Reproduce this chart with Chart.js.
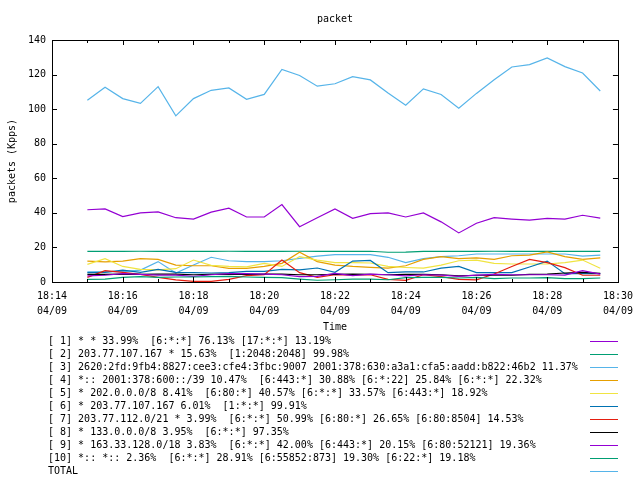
<!DOCTYPE html>
<html>
<head>
<meta charset="utf-8">
<script src="https://cdn.jsdelivr.net/npm/chart.js@4.4.1/dist/chart.umd.min.js"></script>
<style>
html,body{margin:0;padding:0;background:#fff;}
canvas{display:block;}
</style>
</head>
<body>
<canvas id="chart" width="640" height="480"></canvas>
<script>

/* ================= DATA ================= */

let times = ["18:15:00","18:15:30","18:16:00","18:16:30","18:17:00","18:17:30","18:18:00","18:18:30","18:19:00","18:19:30",
"18:20:00","18:20:30","18:21:00","18:21:30","18:22:00","18:22:30","18:23:00","18:23:30","18:24:00","18:24:30",
"18:25:00","18:25:30","18:26:00","18:26:30","18:27:00","18:27:30","18:28:00","18:28:30","18:29:00","18:29:30"];

let dateLabel = "04/09";

let labels = [
"[ 1] * * 33.99%  [6:*:*] 76.13% [17:*:*] 13.19%",
"[ 2] 203.77.107.167 * 15.63%  [1:2048:2048] 99.98%",
"[ 3] 2620:2fd:9fb4:8827:cee3:cfe4:3fbc:9007 2001:378:630:a3a1:cfa5:aadd:b822:46b2 11.37%",
"[ 4] *:: 2001:378:600::/39 10.47%  [6:443:*] 30.88% [6:*:22] 25.84% [6:*:*] 22.32%",
"[ 5] * 202.0.0.0/8 8.41%  [6:80:*] 40.57% [6:*:*] 33.57% [6:443:*] 18.92%",
"[ 6] * 203.77.107.167 6.01%  [1:*:*] 99.91%",
"[ 7] 203.77.112.0/21 * 3.99%  [6:*:*] 50.99% [6:80:*] 26.65% [6:80:8504] 14.53%",
"[ 8] * 133.0.0.0/8 3.95%  [6:*:*] 97.35%",
"[ 9] * 163.33.128.0/18 3.83%  [6:*:*] 42.00% [6:443:*] 20.15% [6:80:52121] 19.36%",
"[10] *:: *:: 2.36%  [6:*:*] 28.91% [6:55852:873] 19.30% [6:22:*] 19.18%",
"TOTAL"
];

let colors = ["#9400d3","#009e73","#56b4e9","#e69f00","#f0e442","#0072b2","#e51e10","#000000","#9400d3","#009e73","#56b4e9"];

let s1 = [41.8,42.3,37.8,40.0,40.6,37.2,36.4,40.4,42.7,37.6,37.6,44.8,32.0,37.2,42.3,36.8,39.6,40.0,37.6,40.0,34.8,28.4,34.0,37.2,36.4,35.8,36.8,36.4,38.6,37.0];
let s2 = [17.7,17.7,17.7,17.8,17.7,17.7,17.7,17.7,17.8,17.7,17.7,17.7,17.8,17.7,17.7,17.7,17.8,17.2,17.3,17.7,17.7,17.7,17.7,17.8,17.7,17.7,17.7,17.7,17.7,17.7];
let s3 = [5.8,6.0,6.0,6.9,11.8,5.2,9.8,14.3,12.3,11.8,11.8,12.3,13.7,15.0,15.8,15.8,15.8,14.3,11.2,13.5,14.7,15.2,16.2,16.2,16.2,16.2,16.2,16.2,15.0,15.6];
let s4 = [12.1,11.6,12.1,13.5,13.1,9.8,9.4,9.4,7.9,7.9,9.0,10.8,17.2,11.8,9.8,9.0,8.5,8.0,9.4,13.1,14.7,13.5,13.9,13.1,15.2,15.6,17.4,14.7,13.1,13.9];
let s5 = [10.2,13.5,9.0,7.3,7.0,7.7,12.7,9.6,9.0,8.7,10.8,9.0,14.7,12.7,11.2,11.2,11.0,9.0,8.4,8.0,9.8,12.3,12.7,10.8,10.4,10.4,10.4,11.2,12.7,8.0];
let s6 = [5.4,5.6,6.9,5.6,7.3,5.6,5.4,5.2,5.4,6.2,6.2,7.3,7.0,8.1,5.6,12.1,12.5,5.4,5.8,5.8,8.0,9.0,5.4,5.4,5.4,8.7,12.1,4.8,4.8,4.8];
let s7 = [2.7,6.6,5.6,4.4,2.7,1.2,0.4,0.4,1.5,3.7,4.2,12.7,5.4,2.7,4.2,3.9,4.2,1.5,1.0,4.2,3.1,1.5,1.2,4.6,9.0,13.1,11.2,8.3,3.9,3.9];
let s8 = [4.4,4.4,4.6,4.4,4.6,4.6,4.2,4.4,4.6,4.4,4.6,4.6,4.2,4.2,4.4,4.6,4.4,4.2,4.4,4.4,4.2,3.5,3.9,3.9,3.9,4.4,4.6,5.2,5.6,5.0];
let s9 = [3.5,3.9,4.8,4.4,4.0,4.0,3.3,4.2,4.8,4.8,4.6,4.2,3.1,3.3,5.0,3.7,4.6,4.2,3.5,4.2,4.0,3.3,4.0,4.4,4.2,4.2,4.2,4.0,6.6,4.6];
let s10 = [1.5,1.7,2.7,3.1,2.7,2.9,2.9,3.1,3.3,2.9,2.7,2.5,1.7,1.0,1.3,1.7,1.7,1.3,2.5,2.7,2.7,2.3,2.7,1.9,2.3,2.3,2.5,1.9,1.9,2.3];
let total = [105.1,112.7,106.1,103.3,113.0,96.1,106.1,110.9,112.3,105.7,108.5,123.0,119.5,113.3,114.7,118.8,116.9,109.4,102.3,111.7,108.5,100.5,109.1,117.0,124.4,125.8,129.6,124.6,120.9,110.5];

let series = [s1,s2,s3,s4,s5,s6,s7,s8,s9,s10,total];

/* ================= HELPERS ================= */

const FONT = "'DejaVu Sans Mono', 'Liberation Mono', monospace";

function toMin(t){
let p = t.split(":").map(Number);
return p[0]*60 + p[1] + p[2]/60;
}

function fmtMin(v){
let h = Math.floor(v/60);
let m = Math.round(v - h*60);
return h + ":" + (m<10 ? "0"+m : m);
}

/* ================= FRAME + INWARD TICKS ================= */

let framePlugin = {
id:"frame",
afterDatasetsDraw(chart){
let ctx = chart.ctx;
let a = chart.chartArea;
let x = chart.scales.x;
let y = chart.scales.y;
ctx.save();
ctx.strokeStyle = "#000";
ctx.lineWidth = 1;
ctx.beginPath();
x.ticks.forEach(t=>{
let px = Math.round(x.getPixelForValue(t.value)) + 0.5;
let len = (t.value % 2 === 0) ? 5 : 3;
ctx.moveTo(px, a.bottom); ctx.lineTo(px, a.bottom - len);
ctx.moveTo(px, a.top); ctx.lineTo(px, a.top + len);
});
y.ticks.forEach(t=>{
let py = Math.round(y.getPixelForValue(t.value)) + 0.5;
ctx.moveTo(a.left, py); ctx.lineTo(a.left + 5, py);
ctx.moveTo(a.right, py); ctx.lineTo(a.right - 5, py);
});
ctx.stroke();
ctx.strokeRect(Math.round(a.left)+0.5, Math.round(a.top)+0.5, Math.round(a.right-a.left), Math.round(a.bottom-a.top));
ctx.restore();
}
};

/* ================= LEGEND BELOW ================= */

let keyPlugin = {
id:"key",
afterDraw(chart){
let ctx = chart.ctx;
let top = chart.scales.x.bottom + 7;
ctx.save();
ctx.font = "10px " + FONT;
ctx.textBaseline = "middle";
ctx.textAlign = "left";
ctx.lineWidth = 1;
chart.data.datasets.forEach((ds,i)=>{
let yy = top + 13*i;
ctx.fillStyle = "#000";
ctx.fillText(ds.label, 48, yy);
ctx.strokeStyle = ds.borderColor;
ctx.beginPath();
ctx.moveTo(590, Math.round(yy)+0.5);
ctx.lineTo(618, Math.round(yy)+0.5);
ctx.stroke();
});
ctx.restore();
}
};

/* ================= CHART ================= */

let datasets = series.map((vals,i)=>({
label:labels[i],
data:vals.map((v,j)=>({x:toMin(times[j]), y:v})),
borderColor:colors[i],
backgroundColor:colors[i],
borderWidth:1.2,
pointRadius:0,
tension:0,
fill:false,
order:series.length - i
}));

new Chart(document.getElementById("chart"),{
type:"line",
data:{datasets},
options:{
responsive:false,
animation:false,
events:[],
layout:{padding:{left:0,right:19,top:0,bottom:146}},
plugins:{
legend:{display:false},
tooltip:{enabled:false},
title:{
display:true,
text:"packet",
fullSize:false,
color:"#000",
font:{family:FONT,size:10,weight:"normal",lineHeight:1.2},
padding:{top:13,bottom:15}
}
},
scales:{
x:{
type:"linear",
min:toMin("18:14:00"),
max:toMin("18:30:00"),
grid:{display:false,drawTicks:false},
border:{display:false},
ticks:{
stepSize:1,
autoSkip:false,
maxRotation:0,
padding:7,
color:"#000",
font:{family:FONT,size:10,lineHeight:1.5},
callback:v => (Math.round(v) % 2 === 0) ? [fmtMin(v), dateLabel] : ""
},
title:{display:true,text:"Time",color:"#000",font:{family:FONT,size:10,lineHeight:1.2},padding:{top:0,bottom:1}},
afterFit:s => { s.height = 52; }
},
y:{
min:0,
max:140,
grid:{display:false,drawTicks:false},
border:{display:false},
ticks:{stepSize:20,padding:6,color:"#000",font:{family:FONT,size:10}},
title:{display:true,text:"packets (Kpps)",color:"#000",font:{family:FONT,size:10,lineHeight:1.2},padding:{top:6,bottom:0}},
afterFit:s => { s.width = 52; }
}
}
},
plugins:[framePlugin,keyPlugin]
});

</script>
</body>
</html>
